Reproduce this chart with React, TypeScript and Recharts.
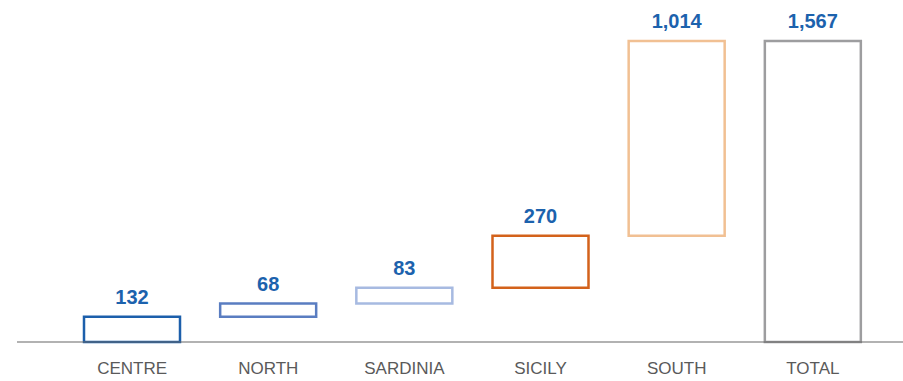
import { BarChart, Bar, XAxis, YAxis, Cell, LabelList } from 'recharts';

const regions = ['CENTRE', 'NORTH', 'SARDINIA', 'SICILY', 'SOUTH', 'TOTAL'];
const amounts = [132, 68, 83, 270, 1014, 1567];
const isTotal = [false, false, false, false, false, true];
const strokes = ['#1c5fab', '#5a7dc1', '#a7bae1', '#d3621b', '#f1c093', '#9d9d9f'];

// running base for the floating bars
let running = 0;
const chartData = regions.map((region, i) => {
  const base = isTotal[i] ? 0 : running;
  if (!isTotal[i]) running += amounts[i];
  return { region, base, value: amounts[i] };
});

export default function App() {
  return (
    <div style={{ position: 'absolute', left: 0, top: 0, background: '#fff' }}>
      <BarChart
        width={903}
        height={381}
        data={chartData}
        margin={{ top: 41, right: 0, left: 17, bottom: 0 }}
        barCategoryGap={0}
      >
        <XAxis
          dataKey="region"
          height={39}
          padding={{ left: 47, right: 22 }}
          tickLine={false}
          axisLine={{ stroke: '#666', strokeWidth: 1.2 }}
          tickMargin={14}
          tick={{ fill: '#5a5a5a', fontSize: 17, fontFamily: 'Liberation Sans, Arial, sans-serif' }}
          interval={0}
        />
        <YAxis hide domain={[0, 1567]} />
        <Bar dataKey="base" stackId="w" fill="transparent" barSize={96} isAnimationActive={false} />
        <Bar dataKey="value" stackId="w" fill="#fff" strokeWidth={2.5} barSize={96} isAnimationActive={false}>
          {chartData.map((_, i) => (
            <Cell key={`cell-${i}`} stroke={strokes[i]} />
          ))}
          <LabelList
            dataKey="value"
            position="top"
            offset={13}
            formatter={(v: number) => v.toLocaleString('en-US')}
            style={{ fill: '#1c62ad', fontSize: 20, fontWeight: 700, fontFamily: 'Liberation Sans, Arial, sans-serif' }}
          />
        </Bar>
      </BarChart>
    </div>
  );
}
